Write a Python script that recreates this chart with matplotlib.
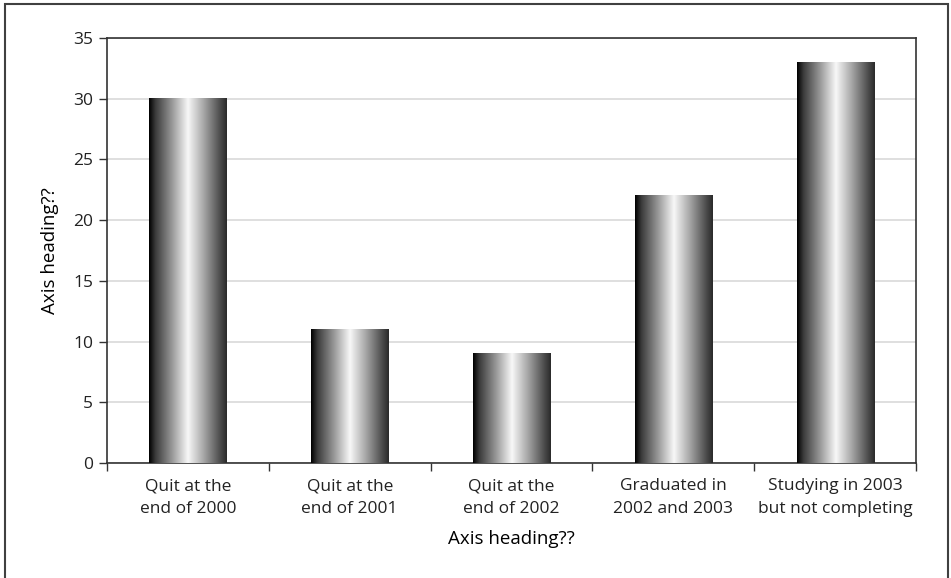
import numpy as np
import matplotlib
matplotlib.use("Agg")
import matplotlib.pyplot as plt
from matplotlib.colors import LinearSegmentedColormap
from matplotlib.patches import Rectangle

# categorias e valores
categorias = ["Quit at the\nend of 2000", "Quit at the\nend of 2001", "Quit at the\nend of 2002",
              "Graduated in\n2002 and 2003", "Studying in 2003\nbut not completing"]
valores = [30, 11, 9, 22, 33]
yticks = [0, 5, 10, 15, 20, 25, 30, 35]

plt.rcParams['font.family'] = ['Open Sans', 'DejaVu Sans']

# gradiente tipo cilindro
cmap = LinearSegmentedColormap.from_list("cil", [
    (0.0, "#000000"), (0.08, "#3a3a3a"), (0.3, "#9a9a9a"), (0.5, "#f8f8f8"),
    (0.7, "#a8a8a8"), (0.92, "#4a4a4a"), (1.0, "#2a2a2a")])
grad = np.linspace(0, 1, 256).reshape(1, -1)

fig = plt.figure(figsize=(9.51, 5.78), dpi=100)
ax = fig.add_axes([107/951, 1 - 463/578, (916-107)/951, (463-38)/578])

x = np.arange(len(valores))
bars = ax.bar(x, valores, width=0.476, color="none", zorder=3)
for b in bars:
    x0, y0 = b.get_x(), b.get_y()
    ax.imshow(grad, cmap=cmap, aspect="auto", interpolation="bilinear",
              extent=[x0, x0 + b.get_width(), y0, y0 + b.get_height()], zorder=3)

ax.set_xlim(-0.5, len(valores) - 0.5)
ax.set_ylim(0, 35)
ax.set_yticks(yticks)
ax.yaxis.grid(True, color="#d9d9d9", linewidth=1.2, zorder=0)
ax.set_axisbelow(True)

ax.set_xticks(x)
ax.set_xticklabels(categorias, fontsize=12.5, color="#222222", linespacing=1.6)
ax.set_xticks(np.arange(-0.5, len(valores)), minor=True)
ax.tick_params(axis="x", which="major", length=0, pad=11)
ax.tick_params(axis="x", which="minor", length=6, width=1, color="#333333")
ax.tick_params(axis="y", length=6, width=1, color="#333333", labelsize=12.5, labelcolor="#222222", pad=4)

for s in ax.spines.values():
    s.set_color("#333333")
    s.set_linewidth(1.2)

ax.set_xlabel("Axis heading??", fontsize=13.5, color="#000000")
ax.xaxis.set_label_coords(0.5, -0.158)
ax.set_ylabel("Axis heading??", fontsize=13.5, color="#000000", labelpad=10)

# moldura externa
fig.patches.append(Rectangle((5/951, -0.05), (948-5)/951, 1.05 - 4/578, transform=fig.transFigure,
                             fill=False, edgecolor="#404040", linewidth=1.5))

fig.savefig("out.png", dpi=100)
